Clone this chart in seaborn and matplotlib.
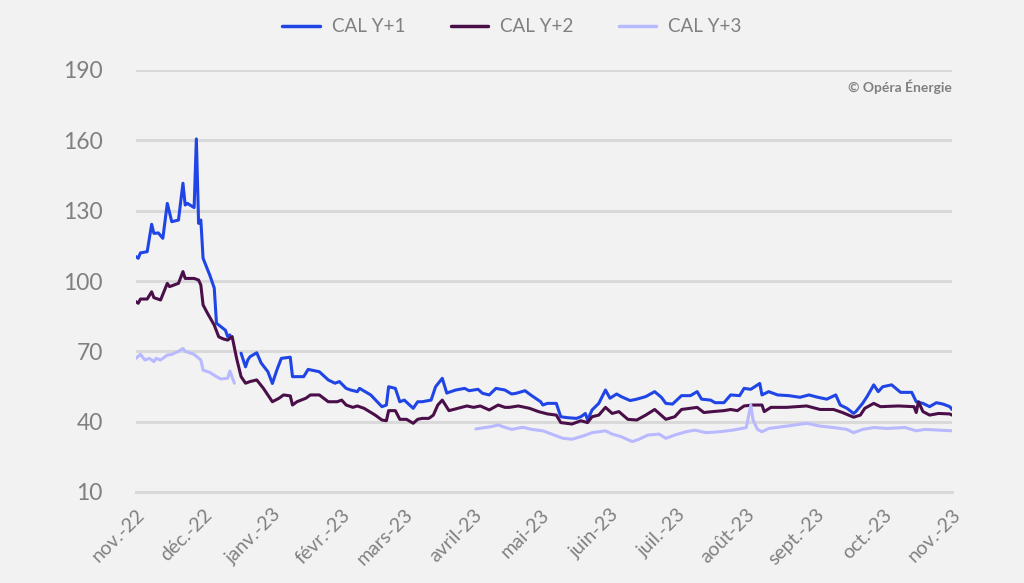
import pandas as pd
import numpy as np
import matplotlib
matplotlib.use("Agg")
import matplotlib.pyplot as plt
import seaborn as sns

# CAL Y+1 (lecture du graphique)
y1_dates = ["2022-11-01", "2022-11-02", "2022-11-03", "2022-11-06", "2022-11-08", "2022-11-09",
            "2022-11-11", "2022-11-13", "2022-11-15", "2022-11-17", "2022-11-20", "2022-11-22",
            "2022-11-23", "2022-11-24", "2022-11-27", "2022-11-28", "2022-11-29", "2022-11-30",
            "2022-12-01", "2022-12-04", "2022-12-06", "2022-12-07", "2022-12-11", "2022-12-12",
            "2022-12-13", "2022-12-15", "2022-12-18", "2022-12-20", "2022-12-21", "2022-12-22",
            "2022-12-25", "2022-12-27", "2022-12-30", "2023-01-01", "2023-01-03", "2023-01-05",
            "2023-01-09", "2023-01-10", "2023-01-15", "2023-01-17", "2023-01-22", "2023-01-26",
            "2023-01-29", "2023-01-31", "2023-02-03", "2023-02-05", "2023-02-08", "2023-02-09",
            "2023-02-14", "2023-02-19", "2023-02-21", "2023-02-22", "2023-02-25", "2023-02-27",
            "2023-03-01", "2023-03-05", "2023-03-07", "2023-03-09", "2023-03-13", "2023-03-15",
            "2023-03-18", "2023-03-20", "2023-03-24", "2023-03-28", "2023-03-30", "2023-04-03",
            "2023-04-05", "2023-04-08", "2023-04-11", "2023-04-15", "2023-04-18", "2023-04-20",
            "2023-04-24", "2023-04-27", "2023-05-01", "2023-05-02", "2023-05-04", "2023-05-08",
            "2023-05-10", "2023-05-13", "2023-05-17", "2023-05-19", "2023-05-21", "2023-05-22",
            "2023-05-24", "2023-05-27", "2023-05-30", "2023-06-01", "2023-06-04", "2023-06-06",
            "2023-06-10", "2023-06-13", "2023-06-17", "2023-06-21", "2023-06-24", "2023-06-26",
            "2023-06-29", "2023-07-03", "2023-07-07", "2023-07-10", "2023-07-12", "2023-07-16",
            "2023-07-18", "2023-07-22", "2023-07-25", "2023-07-29", "2023-07-31", "2023-08-03",
            "2023-08-07", "2023-08-08", "2023-08-11", "2023-08-15", "2023-08-20", "2023-08-25",
            "2023-08-29", "2023-09-02", "2023-09-06", "2023-09-10", "2023-09-12", "2023-09-15",
            "2023-09-18", "2023-09-19", "2023-09-22", "2023-09-24", "2023-09-27", "2023-09-29",
            "2023-10-01", "2023-10-05", "2023-10-09", "2023-10-14", "2023-10-16", "2023-10-19",
            "2023-10-22", "2023-10-25", "2023-10-28", "2023-10-31", "2023-11-01"]
y1_values = [110.4, 109.7, 112.0, 112.5, 124.2, 120.3, 120.5, 118.2, 133.1, 125.3, 126.0, 141.7,
             132.4, 133.1, 131.3, 160.6, 124.6, 126.0, 109.7, 102.5, 97.0, 82.0, 79.0, 76.3,
             77.0, np.nan, 69.2, 63.4, 66.3, 67.7, 69.4, 65.0, 61.3, 56.3, 62.0, 67.0,
             67.5, 59.2, 59.2, 62.3, 61.3, 57.8, 56.4, 57.1, 54.2, 53.5, 52.8, 54.2,
             51.4, 46.4, 47.1, 54.9, 54.2, 48.5, 49.2, 45.7, 48.5, 48.5, 49.2, 54.9,
             58.5, 52.2, 53.5, 54.2, 53.2, 53.8, 52.1, 51.4, 54.2, 53.5, 51.8, 52.1,
             53.2, 51.1, 48.5, 47.1, 47.8, 47.8, 42.1, 41.7, 41.4, 42.1, 43.5, 40.7,
             45.0, 47.8, 53.5, 50.0, 51.8, 50.7, 49.0, 49.6, 50.7, 52.8, 50.4, 47.8,
             47.5, 51.1, 51.1, 52.8, 49.6, 49.2, 48.1, 48.1, 51.4, 51.1, 54.2, 53.8,
             56.3, 51.4, 52.8, 51.4, 51.1, 50.4, 51.4, 50.4, 49.6, 51.4, 47.1, 45.7,
             43.5, 44.3, 47.8, 50.7, 55.7, 52.8, 54.9, 55.7, 52.5, 52.5, 48.5, 47.8,
             46.4, 48.1, 47.5, 46.4, 45.2]

# CAL Y+2
y2_dates = ["2022-11-01", "2022-11-02", "2022-11-03", "2022-11-06", "2022-11-08", "2022-11-09",
            "2022-11-12", "2022-11-15", "2022-11-16", "2022-11-20", "2022-11-22", "2022-11-23",
            "2022-11-27", "2022-11-29", "2022-11-30", "2022-12-01", "2022-12-03", "2022-12-06",
            "2022-12-08", "2022-12-10", "2022-12-12", "2022-12-14", "2022-12-16", "2022-12-18",
            "2022-12-20", "2022-12-22", "2022-12-25", "2022-12-28", "2023-01-01", "2023-01-04",
            "2023-01-06", "2023-01-09", "2023-01-10", "2023-01-12", "2023-01-16", "2023-01-18",
            "2023-01-22", "2023-01-26", "2023-01-30", "2023-02-01", "2023-02-03", "2023-02-06",
            "2023-02-08", "2023-02-11", "2023-02-16", "2023-02-19", "2023-02-21", "2023-02-22",
            "2023-02-25", "2023-02-27", "2023-03-02", "2023-03-05", "2023-03-07", "2023-03-09",
            "2023-03-12", "2023-03-14", "2023-03-16", "2023-03-18", "2023-03-21", "2023-03-25",
            "2023-03-29", "2023-04-01", "2023-04-04", "2023-04-08", "2023-04-12", "2023-04-15",
            "2023-04-17", "2023-04-21", "2023-04-26", "2023-04-30", "2023-05-04", "2023-05-08",
            "2023-05-10", "2023-05-15", "2023-05-19", "2023-05-22", "2023-05-24", "2023-05-27",
            "2023-05-30", "2023-06-02", "2023-06-05", "2023-06-09", "2023-06-13", "2023-06-17",
            "2023-06-21", "2023-06-26", "2023-06-30", "2023-07-03", "2023-07-10", "2023-07-13",
            "2023-07-17", "2023-07-22", "2023-07-25", "2023-07-28", "2023-07-31", "2023-08-04",
            "2023-08-08", "2023-08-09", "2023-08-12", "2023-08-19", "2023-08-28", "2023-09-03",
            "2023-09-09", "2023-09-13", "2023-09-18", "2023-09-21", "2023-09-23", "2023-09-27",
            "2023-09-30", "2023-10-08", "2023-10-15", "2023-10-16", "2023-10-17", "2023-10-19",
            "2023-10-22", "2023-10-26", "2023-10-31", "2023-11-01"]
y2_values = [91.2, 90.5, 92.3, 92.3, 95.4, 92.9, 91.9, 99.0, 97.6, 99.0, 104.0, 101.1,
             101.1, 100.4, 98.3, 89.8, 86.2, 81.2, 76.2, 75.3, 74.8, 76.3, 67.0, 59.2,
             56.4, 57.1, 57.8, 54.2, 48.5, 50.0, 51.4, 51.0, 47.1, 48.5, 50.0, 51.4,
             51.4, 48.5, 48.5, 49.2, 47.1, 46.1, 46.7, 45.7, 42.8, 40.7, 40.4, 44.7,
             44.7, 41.0, 41.0, 39.3, 41.0, 41.4, 41.4, 42.8, 47.1, 49.2, 44.7, 45.7,
             46.7, 46.1, 46.7, 45.0, 47.1, 46.1, 46.1, 46.7, 45.7, 44.3, 43.3, 42.8,
             39.6, 39.0, 40.4, 39.6, 42.1, 42.8, 46.1, 43.5, 44.3, 41.0, 40.7, 42.8,
             45.2, 41.0, 42.1, 45.2, 46.1, 43.9, 44.3, 44.7, 45.2, 44.7, 46.7, 47.1,
             47.1, 44.3, 46.1, 46.1, 46.7, 45.2, 45.2, 43.9, 41.9, 42.8, 45.7, 47.8,
             46.4, 46.7, 46.4, 43.9, 48.5, 44.3, 42.8, 43.5, 43.3, 42.8]

# CAL Y+3 (pas de cotation entre mi-décembre et avril)
y3_dates = ["2022-11-01", "2022-11-03", "2022-11-05", "2022-11-07", "2022-11-09", "2022-11-10",
            "2022-11-12", "2022-11-15", "2022-11-17", "2022-11-20", "2022-11-22", "2022-11-23",
            "2022-11-27", "2022-11-30", "2022-12-01", "2022-12-04", "2022-12-07", "2022-12-09",
            "2022-12-12", "2022-12-13", "2022-12-15", "2022-12-20", "2023-04-02", "2023-04-09",
            "2023-04-12", "2023-04-14", "2023-04-18", "2023-04-23", "2023-04-27", "2023-05-02",
            "2023-05-07", "2023-05-11", "2023-05-15", "2023-05-20", "2023-05-24", "2023-05-30",
            "2023-06-02", "2023-06-06", "2023-06-11", "2023-06-14", "2023-06-18", "2023-06-23",
            "2023-06-26", "2023-06-30", "2023-07-05", "2023-07-09", "2023-07-14", "2023-07-20",
            "2023-07-26", "2023-07-30", "2023-08-01", "2023-08-03", "2023-08-04", "2023-08-06",
            "2023-08-08", "2023-08-11", "2023-08-19", "2023-08-28", "2023-09-03", "2023-09-09",
            "2023-09-15", "2023-09-18", "2023-09-22", "2023-09-27", "2023-10-03", "2023-10-11",
            "2023-10-16", "2023-10-20", "2023-10-26", "2023-11-01"]
y3_values = [67.0, 68.7, 66.3, 67.0, 65.6, 67.0, 66.3, 68.4, 68.7, 70.0, 71.2, 70.0,
             68.7, 66.3, 62.0, 61.0, 59.2, 58.2, 58.5, 61.6, 56.4, np.nan, 36.9, 37.9,
             38.6, 37.9, 36.7, 37.6, 36.7, 36.1, 34.3, 32.9, 32.5, 33.9, 35.3, 36.1,
             34.7, 33.6, 31.5, 32.5, 34.3, 34.7, 32.9, 34.3, 35.7, 36.4, 35.3, 35.7,
             36.4, 37.1, 37.5, 47.1, 40.7, 36.7, 35.7, 37.1, 38.1, 39.3, 38.1, 37.5,
             36.7, 35.3, 36.7, 37.5, 37.1, 37.5, 36.1, 36.7, 36.4, 36.1]

series_names = ["CAL Y+1", "CAL Y+2", "CAL Y+3"]
colors = {"CAL Y+1": "#1f45e6", "CAL Y+2": "#4a0f48", "CAL Y+3": "#b9b9ff"}

month_ticks = pd.date_range("2022-11-01", "2023-11-01", freq="MS")
month_labels = ["nov.-22", "déc.-22", "janv.-23", "févr.-23", "mars-23", "avril-23", "mai-23",
                "juin-23", "juil.-23", "août-23", "sept.-23", "oct.-23", "nov.-23"]

frames = []
for name, d, v in zip(series_names, [y1_dates, y2_dates, y3_dates], [y1_values, y2_values, y3_values]):
    df = pd.DataFrame({"date": pd.to_datetime(d), "prix": v})
    df["serie"] = name
    # un segment par morceau continu (coupure sur les trous)
    df["segment"] = df["prix"].isna().cumsum()
    frames.append(df.dropna())
data = pd.concat(frames, ignore_index=True)

sns.set_style("white")
plt.rcParams["font.family"] = ["Lato", "DejaVu Sans"]

bg = "#f2f2f2"
grid_c = "#d9d9d9"
txt_c = "#808080"

fig = plt.figure(figsize=(10.24, 5.83), dpi=100, facecolor=bg)
ax = fig.add_axes([136 / 1024, 1 - 492 / 583, 816 / 1024, 422 / 583])
ax.set_facecolor(bg)

sns.lineplot(data=data, x="date", y="prix", hue="serie", units="segment", estimator=None,
             palette=colors, hue_order=series_names, linewidth=2.2, ax=ax, legend=False)

ax.set_xlim(pd.Timestamp("2022-11-01"), pd.Timestamp("2023-11-01"))
ax.set_ylim(10, 190)
ax.set_yticks(range(10, 191, 30))
for yv in range(40, 191, 30):
    ax.axhline(yv, color=grid_c, lw=2.2, zorder=0)

for s in ["top", "right", "left"]:
    ax.spines[s].set_visible(False)
ax.spines["bottom"].set_color(grid_c)
ax.spines["bottom"].set_linewidth(2.2)

ax.set_xticks(month_ticks)
ax.set_xticklabels(month_labels, rotation=45, ha="right", rotation_mode="anchor")
ax.tick_params(axis="x", colors=grid_c, length=5, width=1.5, labelcolor=txt_c,
               labelsize=14, pad=5)
ax.tick_params(axis="y", length=0, labelcolor=txt_c, labelsize=16.5, pad=24)
ax.set_xlabel("")
ax.set_ylabel("")

handles = [plt.Line2D([], [], color=colors[n], lw=2.5) for n in series_names]
fig.legend(handles, series_names, loc="center", bbox_to_anchor=(0.5, 1 - 27 / 583), ncol=3,
           frameon=False, fontsize=13.5, labelcolor=txt_c, handlelength=2.0, columnspacing=2.4,
           handletextpad=0.65)

fig.text(952 / 1024, 1 - 87 / 583, "© Opéra Énergie", ha="right", va="center",
         fontsize=10, fontweight="bold", color=txt_c)

fig.savefig("out.png", dpi=100, facecolor=bg)
